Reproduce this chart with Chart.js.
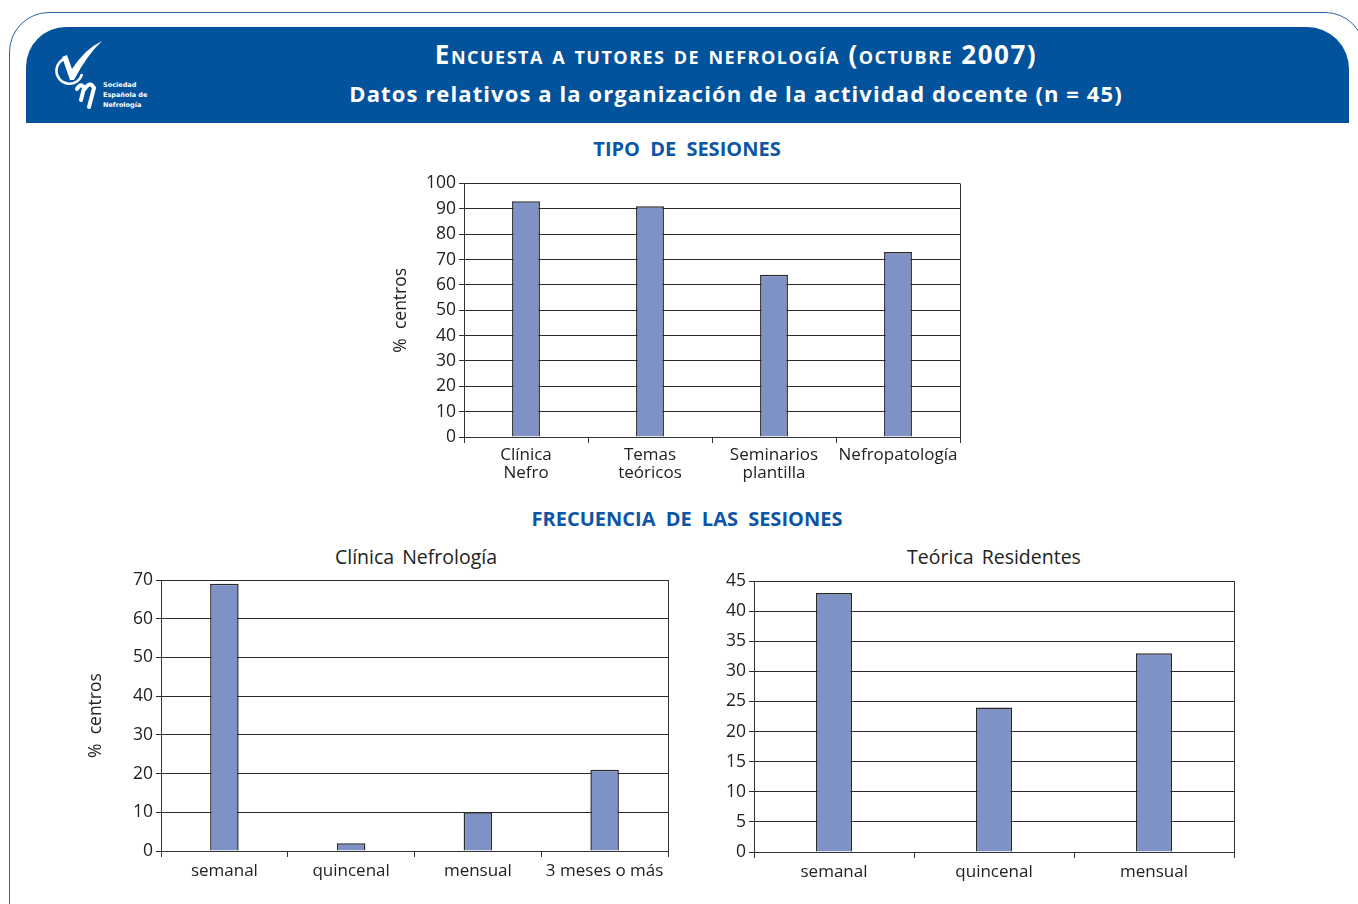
<!DOCTYPE html>
<html>
<head>
<meta charset="utf-8">
<script src="https://cdn.jsdelivr.net/npm/chart.js@4"></script>
<style>
  body { margin: 0; background: #fff; font-family: 'Open Sans', sans-serif; }
  #page { position: relative; width: 1358px; height: 904px; overflow: hidden; }
  .frame { position: absolute; left: 9px; top: 12px; width: 1356px; height: 1000px;
           border: 1.5px solid #2b66ab; border-radius: 40px; box-sizing: border-box; }
  .header { position: absolute; left: 26px; top: 27px; width: 1323px; height: 96px;
            background: #02529c; border-radius: 40px 42px 0 0; }
  .h1, .h2 { position: absolute; left: 26px; width: 1420px; text-align: center; color: #fff; font-weight: bold; white-space: nowrap; }
  .h1 { top: 36px; font-size: 26px; letter-spacing: 1.5px; font-variant: small-caps; }
  .h2 { top: 78px; font-size: 22px; letter-spacing: 1.1px; }
  .logo-t { position: absolute; left: 103px; color: #fff; font-size: 6.5px; font-weight: bold; font-family: 'DejaVu Sans', sans-serif; }
  .sec { position: absolute; left: 0; width: 1374px; text-align: center; color: #0d56a5; font-weight: bold; font-size: 20px; word-spacing: 5px; }
  .ctitle { position: absolute; text-align: center; color: #222; font-size: 19.5px; word-spacing: 3px; }
  canvas { position: absolute; }
</style>
</head>
<body>
<div id="page">
  <div class="frame"></div>
  <div class="header"></div>
  <svg style="position:absolute;left:0;top:0" width="160" height="120">
    <path d="M67,58 A13,13 0 1,0 82,74" fill="none" stroke="#fff" stroke-width="2.5"/>
    <path d="M62,57 L67,55 L72,69 Q85,49 102,41 Q87,55 74,80 L70,80 Z" fill="#fff"/>
    <path d="M77,89 Q81,82 84,88 L81,100 M84,90 Q90,80 94,88 L89,107" fill="none" stroke="#fff" stroke-width="4" stroke-linecap="round"/>
  </svg>
  <div class="logo-t" style="top:81px">Sociedad</div>
  <div class="logo-t" style="top:91px">Española de</div>
  <div class="logo-t" style="top:101px">Nefrología</div>
  <div class="h1">Encuesta a tutores de nefrología (octubre 2007)</div>
  <div class="h2">Datos relativos a la organización de la actividad docente (n = 45)</div>

  <div class="sec" style="top:135px">TIPO DE SESIONES</div>
  <div class="sec" style="top:505px">FRECUENCIA DE LAS SESIONES</div>
  <div class="ctitle" style="left:266px;width:300px;top:543px">Clínica Nefrología</div>
  <div class="ctitle" style="left:844px;width:300px;top:543px">Teórica Residentes</div>

  <canvas id="c1" width="590" height="320" style="left:385px;top:170px"></canvas>
  <canvas id="c2" width="600" height="330" style="left:80px;top:565px"></canvas>
  <canvas id="c3" width="550" height="330" style="left:700px;top:566px"></canvas>
</div>
<script>
// Tipo de sesiones (% centros)
const tipoLabels = [['Clínica', 'Nefro'], ['Temas', 'teóricos'], ['Seminarios', 'plantilla'], 'Nefropatología'];
const tipoValues = [93, 91, 64, 73];

// Frecuencia - Clínica Nefrología
const clinicaLabels = ['semanal', 'quincenal', 'mensual', '3 meses o más'];
const clinicaValues = [69, 2, 10, 21];

// Frecuencia - Teórica Residentes
const teoricaLabels = ['semanal', 'quincenal', 'mensual'];
const teoricaValues = [43, 24, 33];

Chart.defaults.font.family = "'Open Sans', sans-serif";
Chart.defaults.color = '#222';

// right border of the plot area
const boxRight = {
  id: 'boxRight',
  afterDraw(chart) {
    const a = chart.chartArea, ctx = chart.ctx;
    ctx.save();
    ctx.strokeStyle = '#333';
    ctx.lineWidth = 1;
    ctx.beginPath();
    ctx.moveTo(Math.round(a.right) + 0.5, a.top);
    ctx.lineTo(Math.round(a.right) + 0.5, a.bottom);
    ctx.stroke();
    ctx.restore();
  }
};

function barChart(id, labels, values, max, step, o) {
  new Chart(document.getElementById(id), {
    type: 'bar',
    data: {
      labels: labels,
      datasets: [{
        data: values,
        backgroundColor: '#7f92c6',
        borderColor: '#2a2a2a',
        borderWidth: 1.5,
        barPercentage: o.bar,
        categoryPercentage: 1
      }]
    },
    options: {
      responsive: false,
      animation: false,
      layout: { padding: { top: o.top, right: o.right, left: 0, bottom: 0 } },
      plugins: { legend: { display: false }, tooltip: { enabled: false } },
      scales: {
        x: {
          grid: { display: true, drawOnChartArea: false, offset: true, tickLength: 6, color: '#333' },
          border: { color: '#333', width: 1 },
          ticks: { font: { size: 17, lineHeight: 1.06 }, padding: o.xpad, maxRotation: 0, autoSkip: false },
          afterFit: s => { s.height = o.xh; }
        },
        y: {
          min: 0, max: max,
          grid: { color: '#2a2a2a', lineWidth: 1, tickLength: 5 },
          border: { color: '#333', width: 1 },
          ticks: { stepSize: step, font: { size: 17.5 }, padding: 3 },
          title: { display: o.ytitle, text: '%  centros', font: { size: 17.5 }, padding: { top: 6, bottom: 0 } },
          afterFit: s => { s.width = o.yw; }
        }
      }
    },
    plugins: [boxRight]
  });
}

barChart('c1', tipoLabels, tipoValues, 100, 10, { top: 10, right: 15, xh: 53, yw: 79, xpad: 3, bar: 0.225, ytitle: true });
barChart('c2', clinicaLabels, clinicaValues, 70, 10, { top: 15, right: 12, xh: 44, yw: 81, xpad: 5, bar: 0.225, ytitle: true });
barChart('c3', teoricaLabels, teoricaValues, 45, 5, { top: 15, right: 16, xh: 44, yw: 54, xpad: 5, bar: 0.225, ytitle: false });
</script>
</body>
</html>
